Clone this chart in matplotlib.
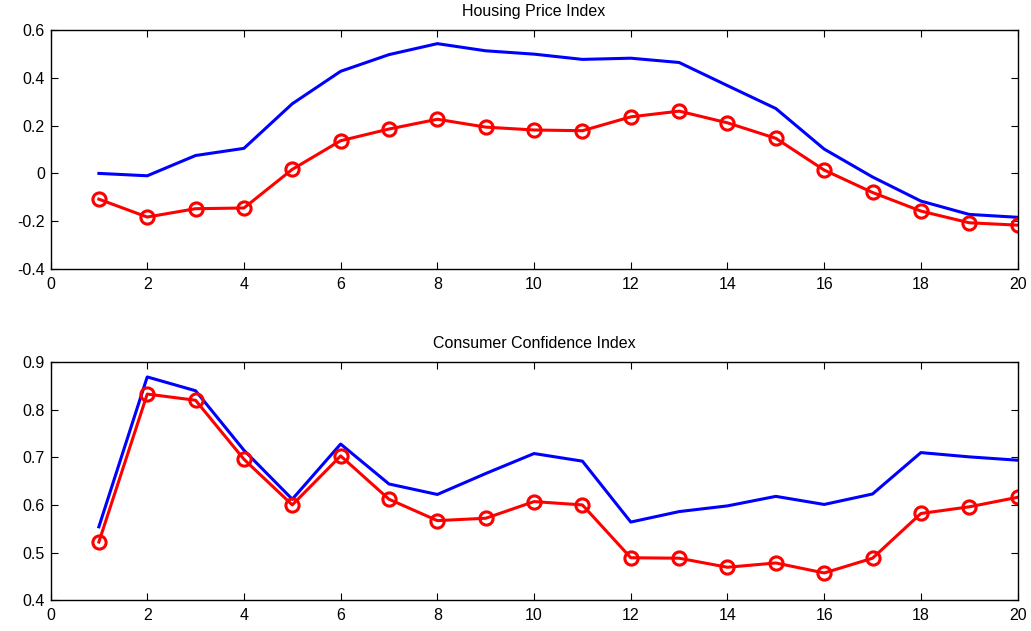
import numpy as np
import matplotlib
matplotlib.use("Agg")
import matplotlib.pyplot as plt

plt.rcParams['font.family'] = ['Liberation Sans', 'DejaVu Sans']

x = np.arange(1, 21)

# Housing Price Index
hpi_blue = [0.0, -0.01, 0.075, 0.105, 0.292, 0.428, 0.498, 0.544, 0.514, 0.500,
            0.478, 0.483, 0.465, 0.368, 0.272, 0.102, -0.015, -0.116, -0.172, -0.184]
hpi_red = [-0.108, -0.183, -0.148, -0.145, 0.017, 0.137, 0.186, 0.227, 0.194, 0.182,
           0.179, 0.237, 0.261, 0.212, 0.147, 0.014, -0.080, -0.158, -0.207, -0.217]

# Consumer Confidence Index
cci_blue = [0.554, 0.869, 0.840, 0.715, 0.612, 0.728, 0.644, 0.622, 0.666, 0.708,
            0.692, 0.564, 0.586, 0.598, 0.618, 0.601, 0.623, 0.710, 0.701, 0.694]
cci_red = [0.522, 0.833, 0.820, 0.696, 0.600, 0.703, 0.612, 0.567, 0.572, 0.607,
           0.600, 0.489, 0.488, 0.469, 0.478, 0.457, 0.488, 0.582, 0.596, 0.616]

panels = [
    ("Housing Price Index", hpi_blue, hpi_red, (-0.4, 0.6), np.arange(-0.4, 0.61, 0.2)),
    ("Consumer Confidence Index", cci_blue, cci_red, (0.4, 0.9), np.arange(0.4, 0.91, 0.1)),
]

fig = plt.figure(figsize=(10.31, 6.31), dpi=100)
rects = [[0.049, 0.574, 0.938, 0.378], [0.049, 0.049, 0.938, 0.377]]

for rect, (title, blue, red, ylim, yticks) in zip(rects, panels):
    ax = fig.add_axes(rect)
    ax.plot(x, blue, color='blue', lw=2.2)
    ax.plot(x, red, color='red', lw=2.2, marker='o', ms=9.5, mfc='none', mew=2.2)
    ax.set_xlim(0, 20)
    ax.set_ylim(*ylim)
    ax.set_xticks(np.arange(0, 21, 2))
    ax.set_yticks(yticks)
    ax.set_yticklabels([f"{v:g}" for v in np.round(yticks, 1)])
    ax.tick_params(direction='in', top=True, right=True, labelsize=11.5, length=5, width=0.8)
    ax.tick_params(axis='x', pad=6)
    ax.tick_params(axis='y', pad=4)
    for s in ax.spines.values():
        s.set_linewidth(1.0)
    ax.set_title(title, fontsize=11.5, pad=10)

fig.savefig("out.png", dpi=100)
